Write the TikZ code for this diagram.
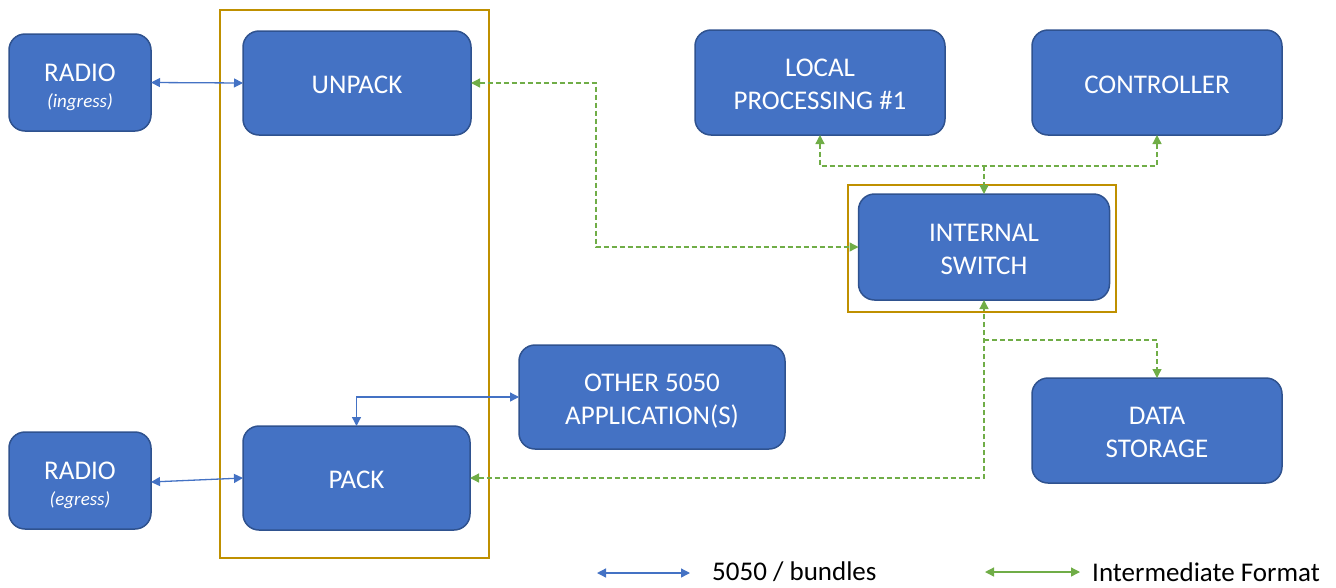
\documentclass[tikz,border=0pt]{standalone}
\usepackage{fontspec}
\setmainfont{Carlito}
\usetikzlibrary{arrows.meta}
\definecolor{boxfill}{HTML}{4472C4}
\definecolor{boxline}{HTML}{2F528F}
\definecolor{gold}{HTML}{BF9000}
\definecolor{lineblue}{HTML}{4472C4}
\definecolor{linegreen}{HTML}{70AD47}
\newcommand{\blt}[2][-4pt]{\raisebox{#1}[\height][\depth]{\begin{tabular}{@{}c@{}}#2\end{tabular}}}
\tikzset{
  blk/.style={draw=boxline, fill=boxfill, line width=1.5pt, rounded corners=16pt,
    text=white, align=center, inner sep=0pt, outer sep=0pt,
    font=\fontsize{27}{33}\selectfont},
  frame/.style={draw=gold, line width=2pt, inner sep=0pt, outer sep=0pt},
  bl/.style={draw=lineblue, line width=1.3pt, {Triangle[length=9pt,width=9pt]}-{Triangle[length=9pt,width=9pt]}},
  gr/.style={draw=linegreen, line width=1.3pt, dash pattern=on 5pt off 3pt},
  gtip/.style={-{Triangle[length=9pt,width=9pt]}},
  gtips/.style={{Triangle[length=9pt,width=9pt]}-{Triangle[length=9pt,width=9pt]}},
  legtext/.style={anchor=west, inner sep=0pt, font=\fontsize{27}{33}\selectfont, text=black}
}
\begin{document}
\begin{tikzpicture}[x=1pt,y=-1pt]
\useasboundingbox (0,0) rectangle (1336,587);
% frames
\node[frame, minimum width=269pt, minimum height=548pt] (f1) at (354.5,284) {};
\node[frame, minimum width=268pt, minimum height=127pt] (f2) at (982,248.5) {};
% blocks
\node[blk, minimum width=142pt, minimum height=97pt] (ri) at (80,82.5) {\blt[-5.5pt]{RADIO\\[-7pt]{\fontsize{19}{23}\selectfont\itshape (ingress)}}};
\node[blk, minimum width=228pt, minimum height=104pt] (up) at (357,83) {\blt{UNPACK}};
\node[blk, minimum width=227pt, minimum height=104pt] (pk) at (356.5,478) {\blt{PACK}};
\node[blk, minimum width=142pt, minimum height=97pt] (re) at (80,480.5) {\blt[-5.5pt]{RADIO\\[-7pt]{\fontsize{19}{23}\selectfont\itshape (egress)}}};
\node[blk, minimum width=266pt, minimum height=104pt] (oth) at (652,397) {\blt{OTHER 5050\\APPLICATION(S)}};
\node[blk, minimum width=250pt, minimum height=105pt] (lp) at (820,82.5) {\blt{LOCAL\\PROCESSING \#1}};
\node[blk, minimum width=250pt, minimum height=105pt] (ct) at (1157,82.5) {\blt{CONTROLLER}};
\node[blk, minimum width=251pt, minimum height=106pt] (sw) at (984,247) {\blt{INTERNAL\\SWITCH}};
\node[blk, minimum width=250pt, minimum height=105pt] (ds) at (1157,430.5) {\blt{DATA\\STORAGE}};
% blue connectors
\draw[bl] (ri.east) -- (up.west);
\draw[bl] ([yshift=-1.5pt]re.east) -- (pk.west);
\draw[bl] (pk.north) |- (oth.west);
% green connectors
\coordinate (j1) at (596,83);
\coordinate (j2) at (984,166);
\coordinate (j3) at (984,340);
\draw[gr,gtips] (up.east) -- (j1) |- (sw.west);
\draw[gr,gtips] (pk.east) -| (sw.south);
\draw[gr,gtip] (j2) -- (sw.north);
\draw[gr,gtips] (lp.south) |- (j2) -| (ct.south);
\draw[gr,gtip] (j3) -| (ds.north);
% legend
\coordinate (la) at (597,573);
\coordinate (lb) at (690,573);
\draw[bl] (la) -- (lb);
\node[legtext] (lt1) at (712,572) {5050 / bundles};
\coordinate (lc) at (985,572);
\coordinate (ld) at (1080,572);
\draw[draw=linegreen, line width=1.3pt, gtips] (lc) -- (ld);
\node[legtext] (lt2) at (1092,572) {Intermediate Format};
\end{tikzpicture}
\end{document}
